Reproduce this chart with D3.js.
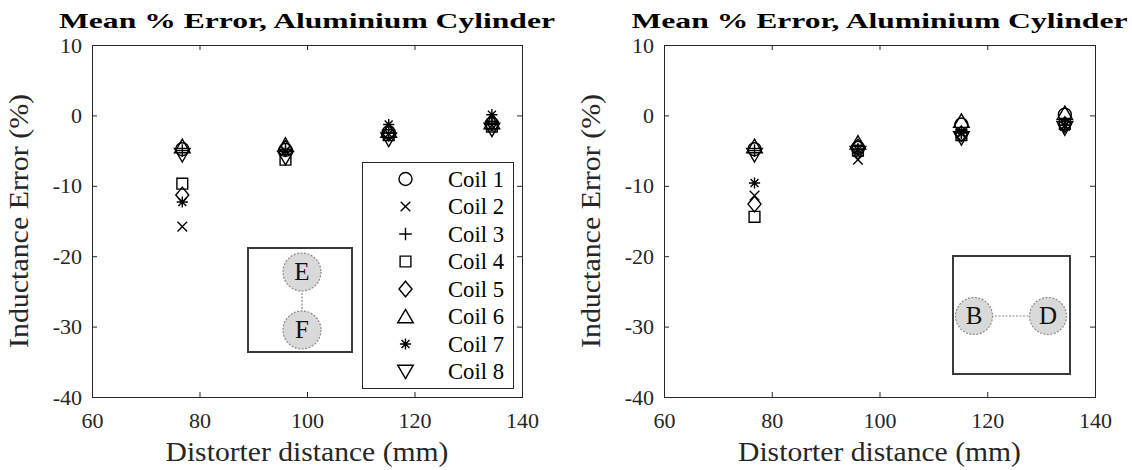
<!DOCTYPE html>
<html>
<head>
<meta charset="utf-8">
<script src="https://cdn.jsdelivr.net/npm/d3@7"></script>
<style>
  body { margin: 0; background: #fff; }
  svg { display: block; }
  svg text { font-family: "Liberation Serif", "DejaVu Serif", serif; }
</style>
</head>
<body>
<svg id="chart" width="1132" height="470"></svg>
<script>
// Distorter distances (mm) at which each coil was measured
const distances = [76.8, 96, 115.2, 134.4];

const coilNames = ["Coil 1", "Coil 2", "Coil 3", "Coil 4", "Coil 5", "Coil 6", "Coil 7", "Coil 8"];
const coilMarkers = ["circle", "cross", "plus", "square", "diamond", "triangle", "asterisk", "triangleDown"];

// Mean inductance error (%) per coil, coil pair E–F (vertical arrangement)
const errorsEF = [
  [-4.8, -4.9, -2.4, -1.2],   // Coil 1
  [-15.8, -5.0, -2.6, -1.4],  // Coil 2
  [-5.0, -4.8, -2.5, -1.3],   // Coil 3
  [-9.7, -6.3, -2.8, -1.6],   // Coil 4
  [-11.3, -4.7, -2.5, -0.9],  // Coil 5
  [-4.4, -4.2, -2.2, -1.0],   // Coil 6
  [-12.3, -5.1, -1.3, 0.1],   // Coil 7
  [-5.6, -6.0, -3.4, -2.0]    // Coil 8
];

// Mean inductance error (%) per coil, coil pair B–D (horizontal arrangement)
const errorsBD = [
  [-4.8, -4.6, -1.3, 0.1],    // Coil 1
  [-11.4, -6.3, -2.6, -1.5],  // Coil 2
  [-5.0, -4.8, -2.5, -1.4],   // Coil 3
  [-14.4, -5.0, -2.8, -1.2],  // Coil 4
  [-12.6, -4.5, -2.6, -1.3],  // Coil 5
  [-4.4, -3.9, -0.8, 0.3],    // Coil 6
  [-9.6, -4.9, -2.4, -1.4],   // Coil 7
  [-5.6, -5.3, -3.2, -1.8]    // Coil 8
];

const xTicks = [60, 80, 100, 120, 140];
const yTicks = [10, 0, -10, -20, -30, -40];
const xDomain = [60, 140];
const yDomain = [-40, 10];

const titleText = "Mean % Error, Aluminium Cylinder";
const xLabelText = "Distorter distance (mm)";
const yLabelText = "Inductance Error (%)";

const axisColor = "#262626";
const serif = "\"Liberation Serif\", \"DejaVu Serif\", serif";

// Marker glyphs, drawn around (0,0)
function markerPath(kind) {
  switch (kind) {
    case "circle": {
      const p = d3.path(); p.arc(0, 0, 6.5, 0, 2 * Math.PI); return p.toString();
    }
    case "cross": { const h = 4.8; return `M${-h},${-h}L${h},${h}M${-h},${h}L${h},${-h}`; }
    case "plus": { const h = 6.3; return `M${-h},0L${h},0M0,${-h}L0,${h}`; }
    case "square": { const h = 5.4; return `M${-h},${-h}L${h},${-h}L${h},${h}L${-h},${h}Z`; }
    case "diamond": return "M0,-7.8L6.5,0L0,7.8L-6.5,0Z";
    case "triangle": return "M0,-7.2L7.8,6.3L-7.8,6.3Z";
    case "triangleDown": return "M0,7.2L7.8,-6.3L-7.8,-6.3Z";
    case "asterisk": {
      const h = 5.6, d = h * Math.SQRT1_2;
      return `M${-h},0L${h},0M0,${-h}L0,${h}M${-d},${-d}L${d},${d}M${-d},${d}L${d},${-d}`;
    }
  }
}

const svg = d3.select("#chart");

function drawPanel(cfg) {
  const x = d3.scaleLinear().domain(xDomain).range([cfg.left, cfg.right]);
  const y = d3.scaleLinear().domain(yDomain).range([cfg.bottom, cfg.top]);
  const g = svg.append("g");

  // axes with inward ticks on all four sides
  const styleAxis = sel => {
    sel.attr("font-family", null).attr("font-size", null);
    sel.select(".domain").remove();
    sel.selectAll(".tick line").attr("stroke", axisColor).attr("stroke-width", 1);
    sel.selectAll(".tick text")
      .attr("fill", axisColor)
      .style("font-family", serif)
      .style("font-size", "22px");
  };
  g.append("g").attr("transform", `translate(0,${cfg.bottom})`)
    .call(d3.axisBottom(x).tickValues(xTicks).tickSize(-5).tickPadding(15).tickFormat(d => String(d)))
    .call(styleAxis);
  g.append("g").attr("transform", `translate(0,${cfg.top})`)
    .call(d3.axisTop(x).tickValues(xTicks).tickSize(-5).tickFormat(""))
    .call(styleAxis);
  g.append("g").attr("transform", `translate(${cfg.left},0)`)
    .call(d3.axisLeft(y).tickValues(yTicks).tickSize(-5).tickPadding(10).tickFormat(d => String(d)))
    .call(styleAxis);
  g.append("g").attr("transform", `translate(${cfg.right},0)`)
    .call(d3.axisRight(y).tickValues(yTicks).tickSize(-5).tickFormat(""))
    .call(styleAxis);

  g.append("rect")
    .attr("x", cfg.left + 0.5).attr("y", cfg.top + 0.5)
    .attr("width", cfg.right - cfg.left).attr("height", cfg.bottom - cfg.top)
    .attr("fill", "none").attr("stroke", axisColor).attr("stroke-width", 1);

  // title and axis labels
  const cx = (cfg.left + cfg.right) / 2;
  g.append("text")
    .attr("x", cx).attr("y", 27.5)
    .attr("text-anchor", "middle")
    .attr("textLength", 496).attr("lengthAdjust", "spacingAndGlyphs")
    .style("font-family", serif).style("font-weight", "bold").style("font-size", "22px")
    .attr("fill", "#000")
    .text(titleText);
  g.append("text")
    .attr("x", cx).attr("y", 461)
    .attr("text-anchor", "middle")
    .attr("textLength", 283).attr("lengthAdjust", "spacingAndGlyphs")
    .style("font-family", serif).style("font-size", "27px")
    .attr("fill", axisColor)
    .text(xLabelText);
  const cy = (cfg.top + cfg.bottom) / 2;
  g.append("text")
    .attr("transform", `translate(${cfg.left - 64},${cy}) rotate(-90)`)
    .attr("text-anchor", "middle")
    .attr("textLength", 254).attr("lengthAdjust", "spacingAndGlyphs")
    .style("font-family", serif).style("font-size", "27px")
    .attr("fill", axisColor)
    .text(yLabelText);

  // inset sketch of the coil pair arrangement
  const inset = g.append("g");
  inset.append("rect")
    .attr("x", cfg.inset.x).attr("y", cfg.inset.y)
    .attr("width", cfg.inset.w).attr("height", cfg.inset.h)
    .attr("fill", "#fff").attr("stroke", "#3a3a3a").attr("stroke-width", 2);
  const [a, b] = cfg.inset.coils;
  inset.append("line")
    .attr("x1", a.cx).attr("y1", a.cy).attr("x2", b.cx).attr("y2", b.cy)
    .attr("stroke", "#8a8a8a").attr("stroke-width", 1.2).attr("stroke-dasharray", "2,1.5");
  cfg.inset.coils.forEach(c => {
    inset.append("circle")
      .attr("cx", c.cx).attr("cy", c.cy).attr("r", c.r)
      .attr("fill", "#d9d9d9").attr("stroke", "#8a8a8a").attr("stroke-width", 1.2)
      .attr("stroke-dasharray", "2,1.5");
    inset.append("text")
      .attr("x", c.cx).attr("y", c.cy + 8)
      .attr("text-anchor", "middle")
      .style("font-family", serif).style("font-size", "25px")
      .attr("fill", "#111")
      .text(c.label);
  });

  // data markers
  cfg.errors.forEach((vals, ci) => {
    g.append("g").selectAll("path")
      .data(vals.map((v, i) => ({ d: distances[i], v })))
      .join("path")
      .attr("transform", p => `translate(${x(p.d)},${y(p.v)})`)
      .attr("d", markerPath(coilMarkers[ci]))
      .attr("fill", "none").attr("stroke", "#000").attr("stroke-width", 1.4);
  });

  // legend
  if (cfg.legend) {
    const L = cfg.legend;
    const lg = g.append("g");
    lg.append("rect")
      .attr("x", L.x + 0.5).attr("y", L.y + 0.5).attr("width", L.w).attr("height", L.h)
      .attr("fill", "#fff").attr("stroke", axisColor).attr("stroke-width", 1);
    coilNames.forEach((name, i) => {
      const ey = L.y + 17 + i * 27.5;
      lg.append("path")
        .attr("transform", `translate(${L.x + 43.5},${ey})`)
        .attr("d", markerPath(coilMarkers[i]))
        .attr("fill", "none").attr("stroke", "#000").attr("stroke-width", 1.4);
      lg.append("text")
        .attr("x", L.x + 86).attr("y", ey + 7.5)
        .attr("textLength", 56).attr("lengthAdjust", "spacingAndGlyphs")
        .style("font-family", serif).style("font-size", "23px")
        .attr("fill", "#000")
        .text(name);
    });
  }
}

drawPanel({
  left: 92, right: 522, top: 45, bottom: 397,
  errors: errorsEF,
  inset: { x: 248, y: 248, w: 104, h: 104,
    coils: [ { cx: 302, cy: 272, r: 19, label: "E" }, { cx: 302, cy: 330, r: 19, label: "F" } ] },
  legend: { x: 362, y: 162, w: 151, h: 226 }
});

drawPanel({
  left: 664, right: 1095, top: 45, bottom: 397,
  errors: errorsBD,
  inset: { x: 953, y: 256, w: 117, h: 118,
    coils: [ { cx: 974, cy: 316, r: 18.5, label: "B" }, { cx: 1048, cy: 316, r: 18.5, label: "D" } ] },
  legend: null
});
</script>
</body>
</html>
